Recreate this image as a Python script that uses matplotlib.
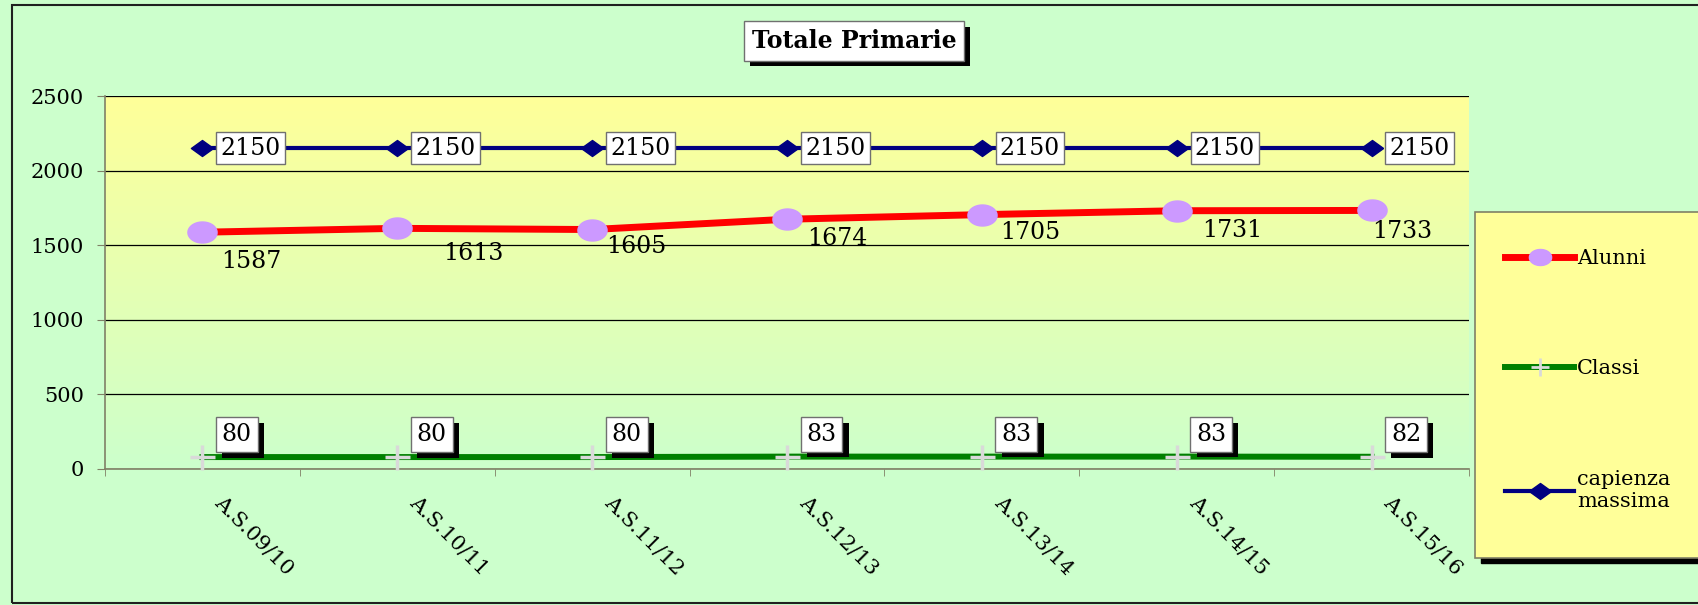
import numpy as np
import matplotlib
matplotlib.use('Agg')
import matplotlib.pyplot as plt
import matplotlib.transforms as mtransforms
import matplotlib.patheffects as pe
from matplotlib.patches import Rectangle
from matplotlib.lines import Line2D

categories = ['A.S.09/10', 'A.S.10/11', 'A.S.11/12', 'A.S.12/13', 'A.S.13/14', 'A.S.14/15', 'A.S.15/16']
alunni = [1587, 1613, 1605, 1674, 1705, 1731, 1733]
classi = [80, 80, 80, 83, 83, 83, 82]
capienza = [2150, 2150, 2150, 2150, 2150, 2150, 2150]
# label offsets for alunni (points), hand-placed like in the original
alunni_off = [(35, -21), (55, -18), (32, -12), (36, -14), (35, -13), (40, -14), (22, -15)]

W, H = 1698, 605
plt.rcParams['font.family'] = 'DejaVu Serif'

def fx(px):
    return px / W

def fy(py):
    return 1 - py / H

shadow = [pe.SimplePatchShadow(offset=(4.5, -4), shadow_rgbFace='black', alpha=1), pe.Normal()]

fig = plt.figure(figsize=(W / 100, H / 100), dpi=100, facecolor='#CCFFCC')
ax = fig.add_axes([fx(105), fy(469), fx(1469) - fx(105), fy(96) - fy(469)])
ax.set_facecolor('none')

x = np.arange(len(categories))
ax.set_xlim(-0.5, len(categories) - 0.5)
ax.set_ylim(0, 2500)

# plot area gradient yellow -> green
top = np.array([255, 255, 153]) / 255
bot = np.array([204, 255, 204]) / 255
t = np.linspace(0, 1, 256)[:, None]
grad = (top * (1 - t) + bot * t)[:, None, :]
ax.imshow(grad, extent=(-0.5, len(categories) - 0.5, 0, 2500), aspect='auto', zorder=0)

ax.set_axisbelow(True)
ax.set_yticks([0, 500, 1000, 1500, 2000, 2500])
ax.yaxis.grid(True, color='black', lw=0.9)
ax.set_xticks(x)
ax.set_xticks(np.arange(-0.5, len(categories)), minor=True)
ax.tick_params(axis='x', which='major', length=0, pad=17)
ax.tick_params(axis='x', which='minor', length=5, color='#808066', direction='out')
ax.tick_params(axis='y', length=6, color='#808066', labelsize=15, pad=9)
ax.set_xticklabels(categories, rotation=-45, ha='left', va='top', rotation_mode='anchor', fontsize=15)
shift = mtransforms.ScaledTranslation(0.22, 0, fig.dpi_scale_trans)
for lab in ax.get_xticklabels():
    lab.set_transform(lab.get_transform() + shift)
for s in ['top', 'right']:
    ax.spines[s].set_visible(False)
for s in ['left', 'bottom']:
    ax.spines[s].set_color('#808066')
    ax.spines[s].set_linewidth(1.2)

t2 = np.linspace(0, 2 * np.pi, 60)
ellipse = np.column_stack([np.cos(t2), 0.72 * np.sin(t2)])
diamond = [(1, 0), (0, 0.72), (-1, 0), (0, -0.72), (1, 0)]

ax.plot(x, classi, color='#008000', lw=4.3, marker='+', ms=18, mew=2.5, mec='#D9D9D9', zorder=3, clip_on=False)
ax.plot(x, alunni, color='#FF0000', lw=5, marker=ellipse, ms=21, mfc='#CC99FF', mec='#CC99FF', zorder=4, clip_on=False)
ax.plot(x, capienza, color='#000080', lw=3, marker=diamond, ms=16, mfc='#000080', mec='#000080', zorder=5, clip_on=False)

for i in range(len(categories)):
    ax.annotate(str(capienza[i]), (x[i], capienza[i]), xytext=(13, 0), textcoords='offset points',
                ha='left', va='center', fontsize=17, zorder=6,
                bbox=dict(boxstyle='square,pad=0.18', fc='white', ec='#707070', lw=1))
    ax.annotate(str(alunni[i]), (x[i], alunni[i]), xytext=alunni_off[i], textcoords='offset points',
                ha='center', va='center', fontsize=17, zorder=6)
    lab = ax.annotate(str(classi[i]), (x[i], classi[i]), xytext=(14, 16), textcoords='offset points',
                      ha='left', va='center', fontsize=17, zorder=7,
                      bbox=dict(boxstyle='square,pad=0.25', fc='white', ec='#707070', lw=1))
    lab.get_bbox_patch().set_path_effects(shadow)

# title with shadow
title = fig.text(fx(854), fy(41), 'Totale Primarie', ha='center', va='center', fontsize=17, fontweight='bold',
                 bbox=dict(boxstyle='square,pad=0.32', fc='white', ec='#707070', lw=1))
title.get_bbox_patch().set_path_effects(shadow)

# legend box with shadow
fig.patches.append(Rectangle((fx(1481), fy(563)), fx(1705) - fx(1481), fy(218) - fy(563),
                             transform=fig.transFigure, fc='black', ec='black', zorder=1))
fig.patches.append(Rectangle((fx(1475), fy(558)), fx(1703) - fx(1475), fy(212) - fy(558),
                             transform=fig.transFigure, fc='#FFFF99', ec='#808066', lw=1.2, zorder=2))
handles = [
    Line2D([], [], color='#FF0000', lw=5, marker=ellipse, ms=16, mfc='#CC99FF', mec='#CC99FF'),
    Line2D([], [], color='#008000', lw=4.3, marker='+', ms=13, mew=2, mec='#D9D9D9'),
    Line2D([], [], color='#000080', lw=3, marker=diamond, ms=16, mfc='#000080', mec='#000080'),
]
leg = fig.legend(handles, ['Alunni', 'Classi', 'capienza\nmassima'], loc='center left',
                 bbox_to_anchor=(fx(1495), fy(380)), frameon=False, fontsize=15,
                 handlelength=3.3, handletextpad=0.15, labelspacing=4.4, borderpad=0)
leg.set_zorder(3)

# outer border
fig.patches.append(Rectangle((fx(12), fy(603)), fx(1710) - fx(12), fy(5) - fy(603),
                             transform=fig.transFigure, fill=False, ec='#202020', lw=1.5, zorder=0))

fig.savefig('out.png', dpi=100, facecolor=fig.get_facecolor())
